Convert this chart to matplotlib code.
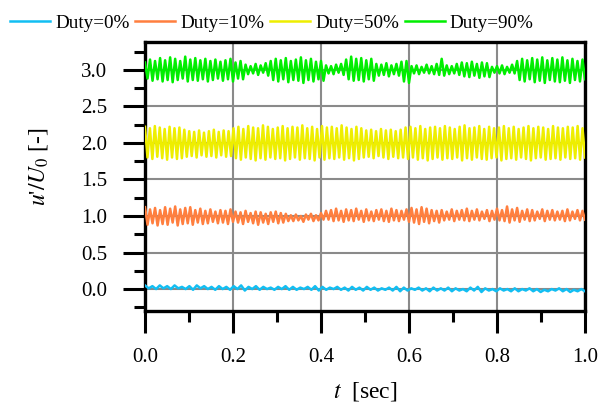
import numpy as np
import matplotlib
matplotlib.use("Agg")
import matplotlib.pyplot as plt
from matplotlib.ticker import MultipleLocator

plt.rcParams['font.family'] = ['Liberation Serif', 'DejaVu Serif']
plt.rcParams['mathtext.fontset'] = 'stix'

labels = ["Duty=0%", "Duty=10%", "Duty=50%", "Duty=90%"]
colors = ["#12BEF2", "#FF7F3F", "#EEEE00", "#00EE00"]

green_peaks = [3.10, 3.14, 3.12, 3.16, 3.13, 3.17, 3.15, 3.12, 3.18, 3.14, 3.16, 3.13, 3.15, 3.12, 3.14, 3.11, 3.13, 3.15, 3.10, 3.12,
               3.07, 3.05, 3.08, 3.06, 3.09,
               3.12, 3.15, 3.13, 3.16, 3.12, 3.14, 3.17, 3.13, 3.15, 3.11, 3.12,
               3.06, 3.05, 3.07, 3.08,
               3.14, 3.18, 3.15, 3.16, 3.13, 3.15,
               3.08, 3.07, 3.09, 3.06, 3.08,
               3.11, 3.12,
               3.05, 3.06, 3.04, 3.07, 3.05, 3.08, 3.15,
               3.06, 3.05, 3.08,
               3.10, 3.09, 3.11, 3.08, 3.10, 3.09,
               3.04, 3.05, 3.06, 3.04, 3.07,
               3.12, 3.15, 3.13, 3.16, 3.14, 3.17, 3.13, 3.16, 3.14, 3.17, 3.13, 3.15, 3.12, 3.14]
green_troughs = [2.88, 2.85, 2.87, 2.84, 2.86, 2.83, 2.86, 2.88, 2.84, 2.86, 2.85, 2.87, 2.84, 2.86, 2.88, 2.85, 2.87, 2.84, 2.88, 2.87,
                 2.94, 2.95, 2.93, 2.96, 2.92,
                 2.86, 2.84, 2.87, 2.83, 2.86, 2.85, 2.82, 2.86, 2.84, 2.87, 2.85,
                 2.95, 2.94, 2.96, 2.93,
                 2.87, 2.85, 2.86, 2.84, 2.87, 2.85,
                 2.92, 2.93, 2.91, 2.94, 2.92,
                 2.84, 2.82,
                 2.95, 2.94, 2.96, 2.95, 2.94, 2.93, 2.92,
                 2.94, 2.95, 2.93,
                 2.91, 2.90, 2.92, 2.89, 2.91, 2.90,
                 2.96, 2.95, 2.94, 2.96, 2.95,
                 2.86, 2.84, 2.87, 2.83, 2.85, 2.82, 2.86, 2.84, 2.83, 2.85, 2.82, 2.86, 2.84, 2.87]

yellow_peaks = [2.22, 2.20, 2.23, 2.21, 2.19, 2.22, 2.20, 2.21, 2.18,
                2.16, 2.15, 2.17, 2.14, 2.16, 2.18, 2.15, 2.17, 2.16,
                2.20, 2.22, 2.19, 2.23, 2.21, 2.20, 2.24, 2.22, 2.19, 2.21, 2.23, 2.20, 2.22, 2.21, 2.24, 2.20, 2.22, 2.19, 2.23, 2.21, 2.22, 2.20, 2.24, 2.21, 2.19, 2.22, 2.20,
                2.17, 2.18, 2.16, 2.19, 2.17, 2.18, 2.16, 2.18,
                2.21, 2.22, 2.20, 2.23, 2.19, 2.21, 2.22, 2.20, 2.23, 2.21, 2.19, 2.22, 2.24, 2.20, 2.21, 2.23, 2.19, 2.22, 2.20, 2.21, 2.23, 2.20, 2.22, 2.19, 2.21, 2.23, 2.20, 2.22, 2.21, 2.19, 2.23, 2.21, 2.20, 2.22, 2.21, 2.23, 2.20]
yellow_troughs = [1.80, 1.78, 1.81, 1.79, 1.77, 1.80, 1.78, 1.79, 1.81,
                  1.82, 1.80, 1.83, 1.81, 1.82, 1.80, 1.83, 1.81, 1.82,
                  1.79, 1.77, 1.80, 1.78, 1.76, 1.79, 1.77, 1.80, 1.78, 1.79, 1.76, 1.78, 1.80, 1.77, 1.79, 1.78, 1.76, 1.80, 1.77, 1.79, 1.78, 1.80, 1.77, 1.79, 1.76, 1.78, 1.80,
                  1.81, 1.79, 1.82, 1.80, 1.78, 1.81, 1.79, 1.80,
                  1.78, 1.80, 1.77, 1.79, 1.76, 1.78, 1.80, 1.77, 1.79, 1.78, 1.80, 1.76, 1.79, 1.77, 1.80, 1.78, 1.77, 1.79, 1.80, 1.76, 1.78, 1.79, 1.77, 1.80, 1.78, 1.76, 1.79, 1.80, 1.77, 1.78, 1.79, 1.77, 1.80, 1.78, 1.79, 1.77, 1.80]

orange_peaks = [1.12, 1.09, 1.11, 1.08, 1.12, 1.10, 1.13, 1.09, 1.11, 1.12, 1.08, 1.10, 1.07, 1.09, 1.06, 1.08, 1.07, 1.09,
                1.06, 1.05, 1.07, 1.04, 1.06, 1.05, 1.03, 1.05, 1.06, 1.04, 1.03,
                1.01, 1.02, 1.00, 1.02, 1.03, 1.01, 1.04,
                1.07, 1.08, 1.10, 1.07, 1.09, 1.08, 1.10, 1.07, 1.09, 1.06, 1.08, 1.09, 1.07, 1.10, 1.08, 1.07, 1.09,
                1.11, 1.09, 1.12, 1.10, 1.08, 1.07,
                1.08, 1.06, 1.09, 1.07, 1.08, 1.10, 1.07, 1.09, 1.06, 1.08, 1.07, 1.10, 1.08, 1.13, 1.09, 1.11, 1.07, 1.09, 1.08, 1.06, 1.09, 1.07, 1.08, 1.06, 1.07, 1.09, 1.06, 1.08, 1.07]
orange_troughs = [0.88, 0.90, 0.87, 0.89, 0.88, 0.91, 0.87, 0.89, 0.90, 0.88, 0.91, 0.89, 0.90, 0.92, 0.90, 0.91, 0.89, 0.92,
                  0.91, 0.89, 0.92, 0.90, 0.88, 0.91, 0.89, 0.92, 0.90, 0.91, 0.93,
                  0.93, 0.94, 0.92, 0.95, 0.93, 0.94, 0.95,
                  0.95, 0.93, 0.94, 0.92, 0.94, 0.93, 0.95, 0.92, 0.94, 0.93, 0.95, 0.93, 0.92, 0.94, 0.93, 0.95, 0.92,
                  0.91, 0.89, 0.92, 0.90, 0.93, 0.91,
                  0.94, 0.95, 0.93, 0.95, 0.94, 0.93, 0.95, 0.94, 0.96, 0.93, 0.95, 0.94, 0.93, 0.91, 0.94, 0.92, 0.95, 0.93, 0.94, 0.96, 0.93, 0.95, 0.94, 0.95, 0.93, 0.94, 0.96, 0.94, 0.95]

blue_peaks = [0.05, 0.04, 0.05, 0.04, 0.05, 0.03, 0.04, 0.05, 0.04, 0.03,
              0.04, 0.03, 0.04, 0.05, 0.03, 0.04, 0.03, 0.02, 0.03, 0.04,
              0.03, 0.02, 0.03, 0.04, 0.03, 0.02, 0.03, 0.02, 0.03, 0.02,
              0.03, 0.02, 0.01, 0.02, 0.03, 0.02, 0.01, 0.02, 0.01, 0.02,
              0.01, 0.02, 0.01, 0.00, 0.02, 0.03, 0.01, 0.00, 0.01, 0.00,
              0.01, 0.00, 0.01, 0.00, -0.01, 0.00, 0.01, 0.00, -0.01, 0.00]
blue_troughs = [0.01, 0.00, 0.01, 0.00, 0.01, 0.00, -0.01, 0.01, 0.00, -0.01,
                0.00, -0.01, 0.00, -0.02, 0.00, -0.01, 0.00, -0.01, 0.00, -0.01,
                -0.01, 0.00, -0.01, -0.02, -0.01, 0.00, -0.01, -0.02, -0.01, -0.02,
                -0.01, -0.02, -0.01, -0.02, -0.03, -0.02, -0.01, -0.02, -0.03, -0.02,
                -0.02, -0.03, -0.02, -0.03, -0.02, -0.04, -0.02, -0.03, -0.02, -0.03,
                -0.03, -0.02, -0.03, -0.04, -0.03, -0.02, -0.03, -0.04, -0.03, -0.03]

series = [(blue_peaks, blue_troughs), (orange_peaks, orange_troughs),
          (yellow_peaks, yellow_troughs), (green_peaks, green_troughs)]

x_ticks = [0.0, 0.2, 0.4, 0.6, 0.8, 1.0]
y_ticks = [0.0, 0.5, 1.0, 1.5, 2.0, 2.5, 3.0]

fig = plt.figure(figsize=(6.06, 4.03), dpi=100)
ax = fig.add_axes([145/606, 1-311/403, 440/606, 269/403])

for (pk, tr), lab, col in zip(series, labels, colors):
    n = min(len(pk), len(tr))
    y = np.empty(2 * n)
    y[0::2] = pk[:n]
    y[1::2] = tr[:n]
    t = np.linspace(0, 1, 2 * n)
    ax.plot(t, y, color=col, lw=1.8, label=lab, zorder=3)

ax.set_xlim(0, 1)
ax.set_ylim(-0.3, 3.38)
ax.set_xticks(x_ticks)
ax.set_yticks(y_ticks)
ax.xaxis.set_minor_locator(MultipleLocator(0.1))
ax.yaxis.set_minor_locator(MultipleLocator(0.25))
ax.set_xticklabels([f"{v:.1f}" for v in x_ticks])
ax.set_yticklabels([f"{v:.1f}" for v in y_ticks])
ax.tick_params(which='major', direction='out', length=16, width=2.2, labelsize=15, pad=11)
ax.tick_params(which='minor', direction='out', length=8, width=2.2)
for s in ax.spines.values():
    s.set_linewidth(2.4)
ax.grid(True, which='major', color='#8a8a8a', lw=1.5, zorder=1)
ax.set_axisbelow(True)

ax.set_xlabel(r"$t$  [sec]", fontsize=17, labelpad=9)
ax.set_ylabel(r"$u$'$/U_0$ [-]", fontsize=17)
ax.yaxis.set_label_coords(-0.215, 0.535)

fig.legend(loc='center left', bbox_to_anchor=(10/606, 1 - 23/403), ncol=4, frameon=False,
           fontsize=13.8, handlelength=2.1, handletextpad=0.25, columnspacing=0.3,
           borderpad=0.0, borderaxespad=0.0)

fig.savefig("out.png", dpi=100)
